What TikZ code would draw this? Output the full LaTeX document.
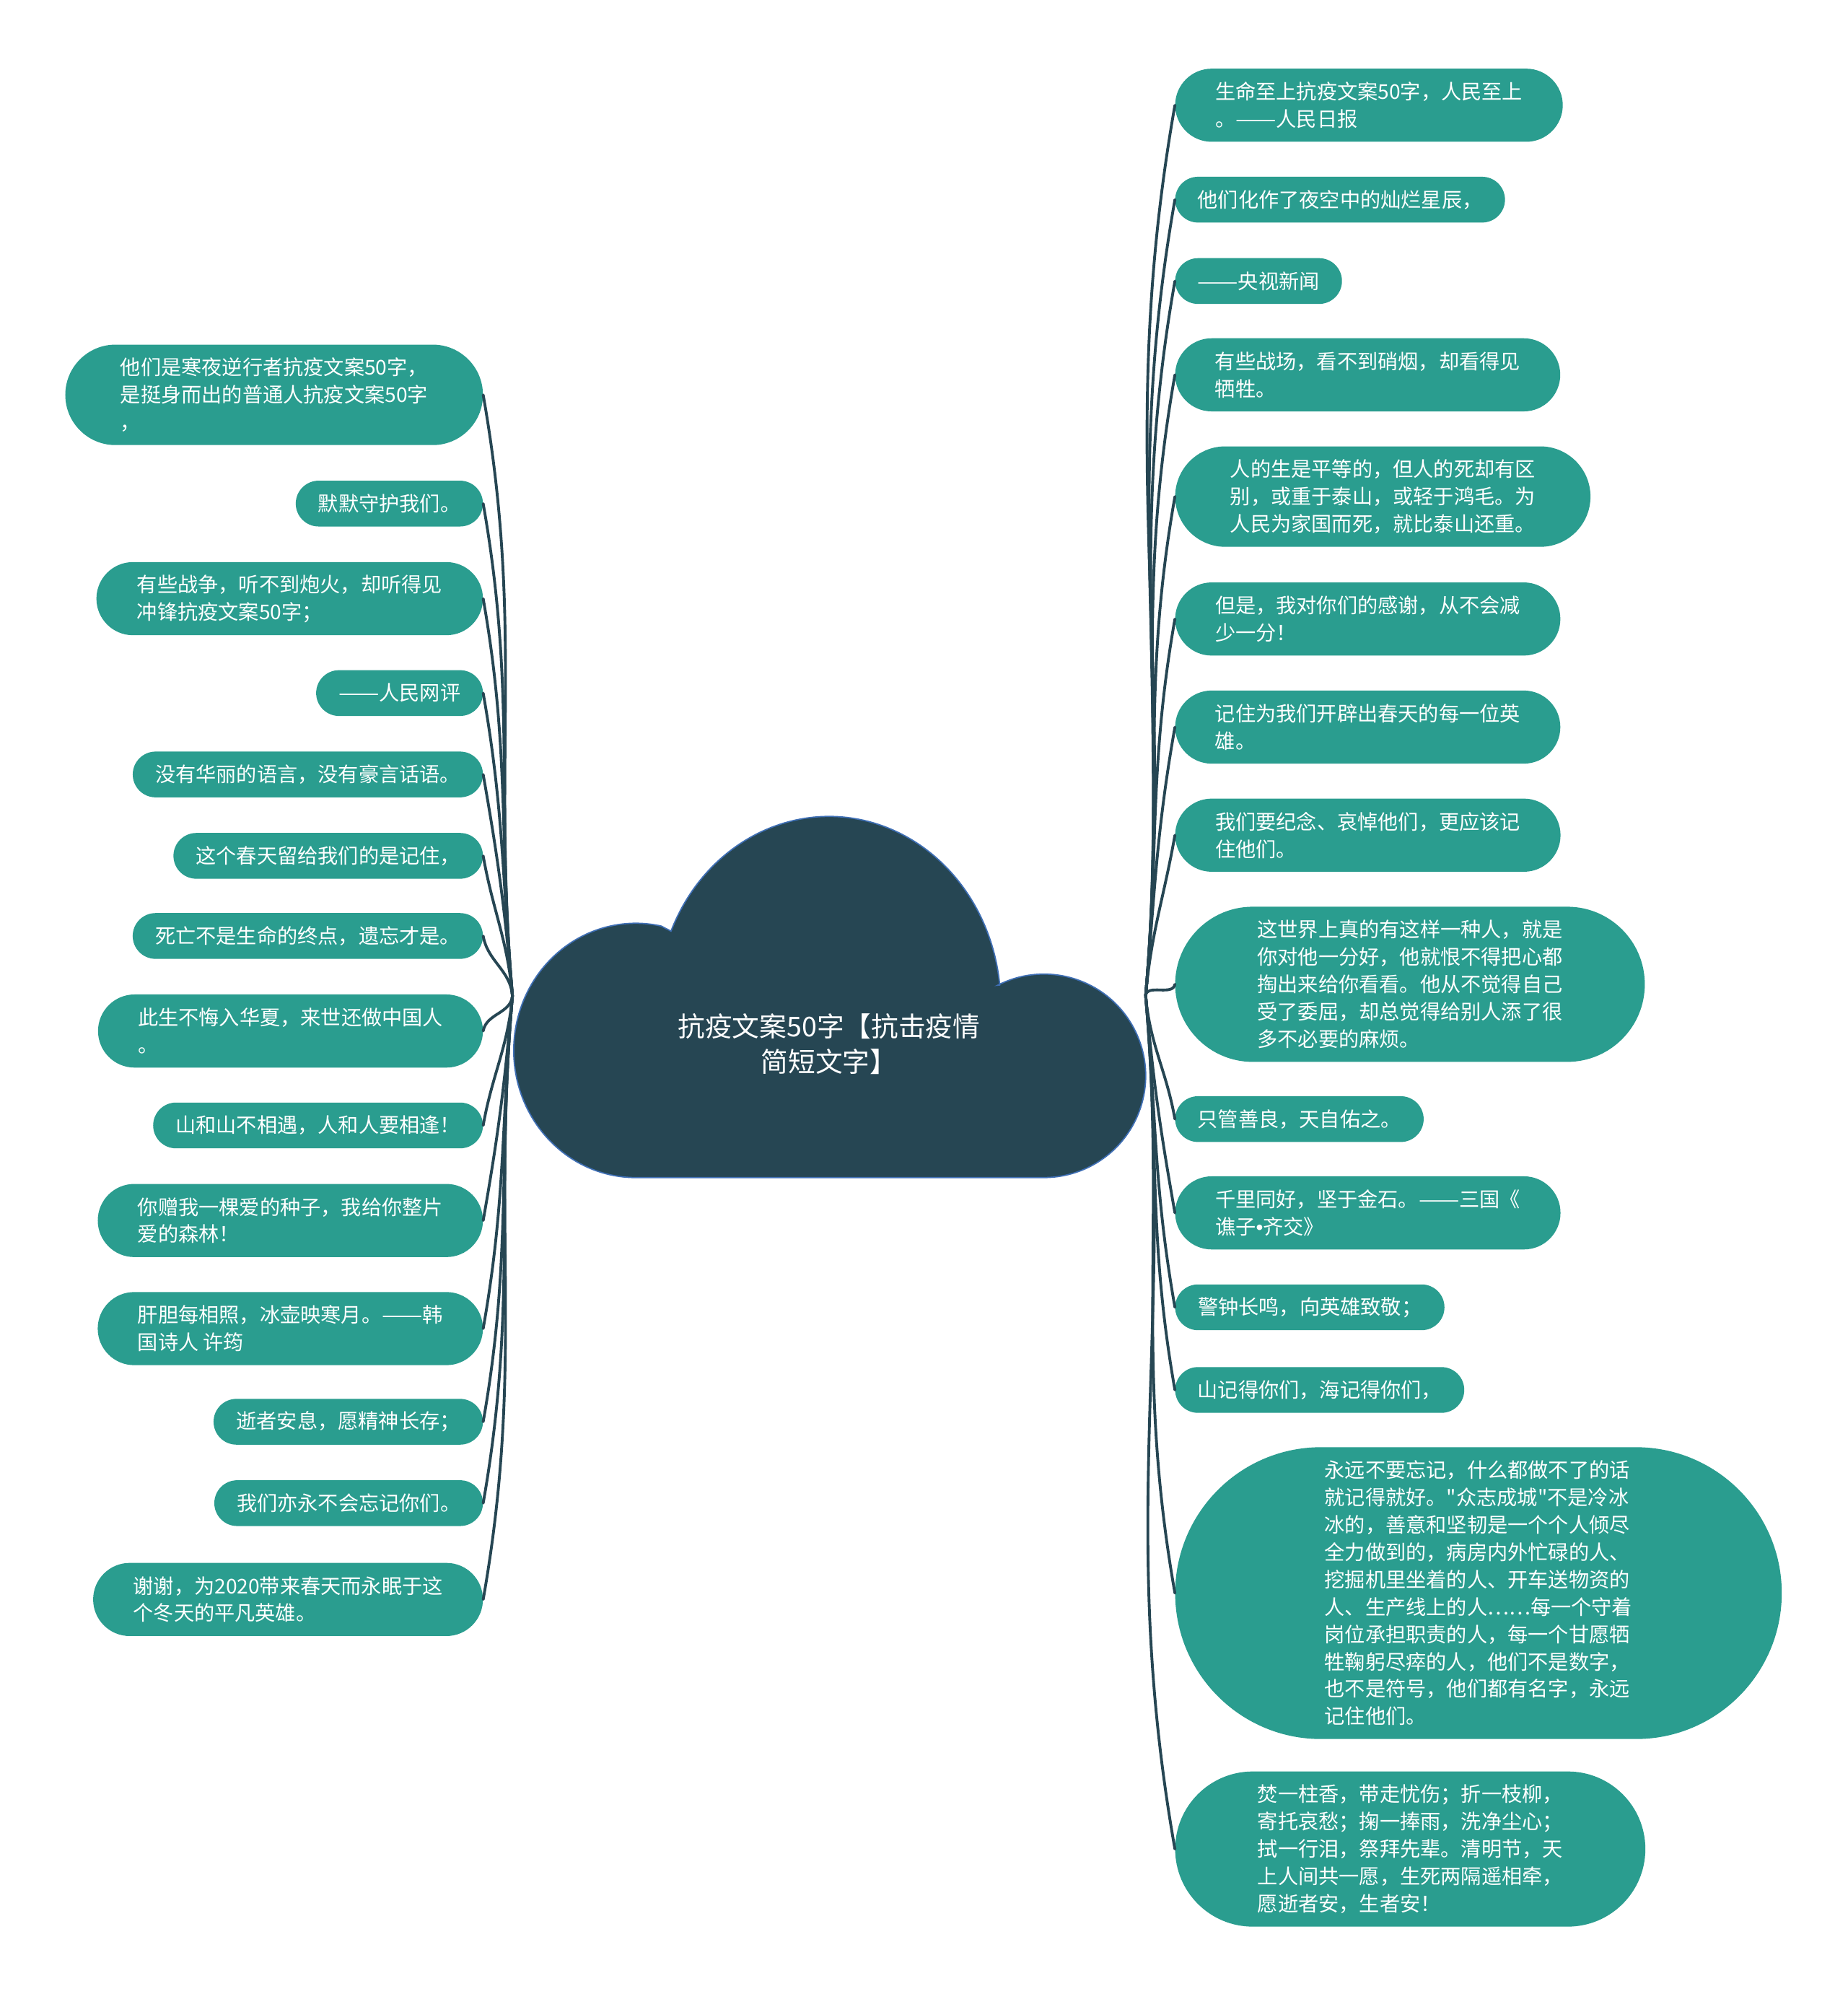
\documentclass[tikz,border=0pt]{standalone}
\usepackage{graphicx}
\usepackage{fontspec}
\setmainfont{Noto Sans CJK SC}[Ligatures=TeXOff]
\newfontfamily\latinfont{Liberation Sans}
\newcommand\cjkdash{\resizebox{2em}{\height}{——}}
\usetikzlibrary{shapes.misc}
\definecolor{leaffill}{HTML}{2A9D8F}
\definecolor{cloudfill}{HTML}{264653}
\definecolor{cloudline}{HTML}{3F6FB5}
\definecolor{linkcol}{HTML}{264653}
\tikzset{
    leafbox/.style={rounded rectangle, fill=leaffill, text=white, align=left,
        font=\fontsize{16pt}{21.5pt}\selectfont, inner ysep=0pt},
    oneline/.style={minimum height=36pt, inner xsep=16pt},
    twolines/.style={minimum height=57.5pt, inner xsep=25pt},
    threelines/.style={minimum height=79pt, inner xsep=30.5pt},
    fivelines/.style={minimum height=122pt, inner xsep=38pt},
    tenlines/.style={minimum height=229.5pt, inner xsep=51pt},
    rootbox/.style={text=white, align=center, font=\fontsize{21.4pt}{28pt}\selectfont},
    link/.style={draw=linkcol, line width=2.2pt, line cap=round}
}

\begin{document}
\begin{tikzpicture}[x=1pt, y=1pt]
\useasboundingbox[fill=white] (0,0) rectangle (1453,-1568);

% central cloud
\draw[fill=cloudfill, draw=cloudline, line width=1pt]
    (500,-926) arc[start angle=270, end angle=78, x radius=96, y radius=100]
    -- (527.7,-732.2) arc[start angle=157, end angle=6, x radius=135, y radius=148]
    -- (784.7,-774.7) arc[start angle=117, end angle=-90, radius=80] -- cycle;
\node[rootbox] (root) at (652,-821) {抗疫文案50字【抗击疫情\\简短文字】};
\coordinate (hubL) at (403,-783);
\coordinate (hubR) at (901,-783);

% left side
\node[leafbox, threelines, anchor=east] (L1) at (380,-310.5) {他们是寒夜逆行者抗疫文案50字，\\是挺身而出的普通人抗疫文案50字\\，};
\node[leafbox, oneline, anchor=east] (L2) at (380,-396) {默默守护我们。};
\node[leafbox, twolines, anchor=east] (L3) at (380,-470.75) {有些战争，听不到炮火，却听得见\\冲锋抗疫文案50字；};
\node[leafbox, oneline, anchor=east] (L4) at (380,-545) {\cjkdash 人民网评};
\node[leafbox, oneline, anchor=east] (L5) at (380,-609) {没有华丽的语言，没有豪言话语。};
\node[leafbox, oneline, anchor=east] (L6) at (380,-673) {这个春天留给我们的是记住，};
\node[leafbox, oneline, anchor=east] (L7) at (380,-736) {死亡不是生命的终点，遗忘才是。};
\node[leafbox, twolines, anchor=east] (L8) at (380,-810.75) {此生不悔入华夏，来世还做中国人\\。};
\node[leafbox, oneline, anchor=east] (L9) at (380,-885) {山和山不相遇，人和人要相逢！};
\node[leafbox, twolines, anchor=east] (L10) at (380,-959.75) {你赠我一棵爱的种子，我给你整片\\爱的森林！};
\node[leafbox, twolines, anchor=east] (L11) at (380,-1044.75) {肝胆每相照，冰壶映寒月。\cjkdash 韩\\国诗人 许筠};
\node[leafbox, oneline, anchor=east] (L12) at (380,-1118) {逝者安息，愿精神长存；};
\node[leafbox, oneline, anchor=east] (L13) at (380,-1182) {我们亦永不会忘记你们。};
\node[leafbox, twolines, anchor=east] (L14) at (380,-1257.75) {谢谢，为2020带来春天而永眠于这\\个冬天的平凡英雄。};

% right side
\node[leafbox, twolines, anchor=west] (R1) at (924,-82.75) {生命至上抗疫文案50字，人民至上\\。\cjkdash 人民日报};
\node[leafbox, oneline, anchor=west] (R2) at (924,-157) {他们化作了夜空中的灿烂星辰，};
\node[leafbox, oneline, anchor=west] (R3) at (924,-221) {\cjkdash 央视新闻};
\node[leafbox, twolines, anchor=west] (R4) at (924,-294.75) {有些战场，看不到硝烟，却看得见\\牺牲。};
\node[leafbox, threelines, anchor=west] (R5) at (924,-390.5) {人的生是平等的，但人的死却有区\\别，或重于泰山，或轻于鸿毛。为\\人民为家国而死，就比泰山还重。};
\node[leafbox, twolines, anchor=west] (R6) at (924,-486.75) {但是，我对你们的感谢，从不会减\\少一分！};
\node[leafbox, twolines, anchor=west] (R7) at (924,-571.75) {记住为我们开辟出春天的每一位英\\雄。};
\node[leafbox, twolines, anchor=west] (R8) at (924,-656.75) {我们要纪念、哀悼他们，更应该记\\住他们。};
\node[leafbox, fivelines, anchor=west] (R9) at (924,-774) {这世界上真的有这样一种人，就是\\你对他一分好，他就恨不得把心都\\掏出来给你看看。他从不觉得自己\\受了委屈，却总觉得给别人添了很\\多不必要的麻烦。};
\node[leafbox, oneline, anchor=west] (R10) at (924,-880) {只管善良，天自佑之。};
\node[leafbox, twolines, anchor=west] (R11) at (924,-953.75) {千里同好，坚于金石。\cjkdash 三国《\\谯子{\latinfont •}齐交》};
\node[leafbox, oneline, anchor=west] (R12) at (924,-1028) {警钟长鸣，向英雄致敬；};
\node[leafbox, oneline, anchor=west] (R13) at (924,-1093) {山记得你们，海记得你们，};
\node[leafbox, tenlines, anchor=west] (R14) at (924,-1252.75) {永远不要忘记，什么都做不了的话\\就记得就好。"众志成城"不是冷冰\\冰的，善意和坚韧是一个个人倾尽\\全力做到的，病房内外忙碌的人、\\挖掘机里坐着的人、开车送物资的\\人、生产线上的人……每一个守着\\岗位承担职责的人，每一个甘愿牺\\牲鞠躬尽瘁的人，他们不是数字，\\也不是符号，他们都有名字，永远\\记住他们。};
\node[leafbox, fivelines, anchor=west] (R15) at (924,-1454) {焚一柱香，带走忧伤；折一枝柳，\\寄托哀愁；掬一捧雨，洗净尘心；\\拭一行泪，祭拜先辈。清明节，天\\上人间共一愿，生死两隔遥相牵，\\愿逝者安，生者安！};

% connectors, left
\draw[link] (L1.east) to[out=-80, in=95] (hubL);
\draw[link] (L2.east) to[out=-80, in=95] (hubL);
\draw[link] (L3.east) to[out=-80, in=95] (hubL);
\draw[link] (L4.east) to[out=-80, in=95] (hubL);
\draw[link] (L5.east) to[out=-80, in=95] (hubL);
\draw[link] (L6.east) to[out=-80, in=95] (hubL);
\draw[link] (L7.east) to[out=-80, in=95] (hubL);
\draw[link] (L8.east) to[out=80, in=-95] (hubL);
\draw[link] (L9.east) to[out=80, in=-95] (hubL);
\draw[link] (L10.east) to[out=80, in=-95] (hubL);
\draw[link] (L11.east) to[out=80, in=-95] (hubL);
\draw[link] (L12.east) to[out=80, in=-95] (hubL);
\draw[link] (L13.east) to[out=80, in=-95] (hubL);
\draw[link] (L14.east) to[out=80, in=-95] (hubL);
% connectors, right
\draw[link] (R1.west) to[out=-100, in=85] (hubR);
\draw[link] (R2.west) to[out=-100, in=85] (hubR);
\draw[link] (R3.west) to[out=-100, in=85] (hubR);
\draw[link] (R4.west) to[out=-100, in=85] (hubR);
\draw[link] (R5.west) to[out=-100, in=85] (hubR);
\draw[link] (R6.west) to[out=-100, in=85] (hubR);
\draw[link] (R7.west) to[out=-100, in=85] (hubR);
\draw[link] (R8.west) to[out=-100, in=85] (hubR);
\draw[link] (R9.west) to[out=-100, in=85] (hubR);
\draw[link] (R10.west) to[out=100, in=-85] (hubR);
\draw[link] (R11.west) to[out=100, in=-85] (hubR);
\draw[link] (R12.west) to[out=100, in=-85] (hubR);
\draw[link] (R13.west) to[out=100, in=-85] (hubR);
\draw[link] (R14.west) to[out=100, in=-85] (hubR);
\draw[link] (R15.west) to[out=100, in=-85] (hubR);
\end{tikzpicture}
\end{document}
